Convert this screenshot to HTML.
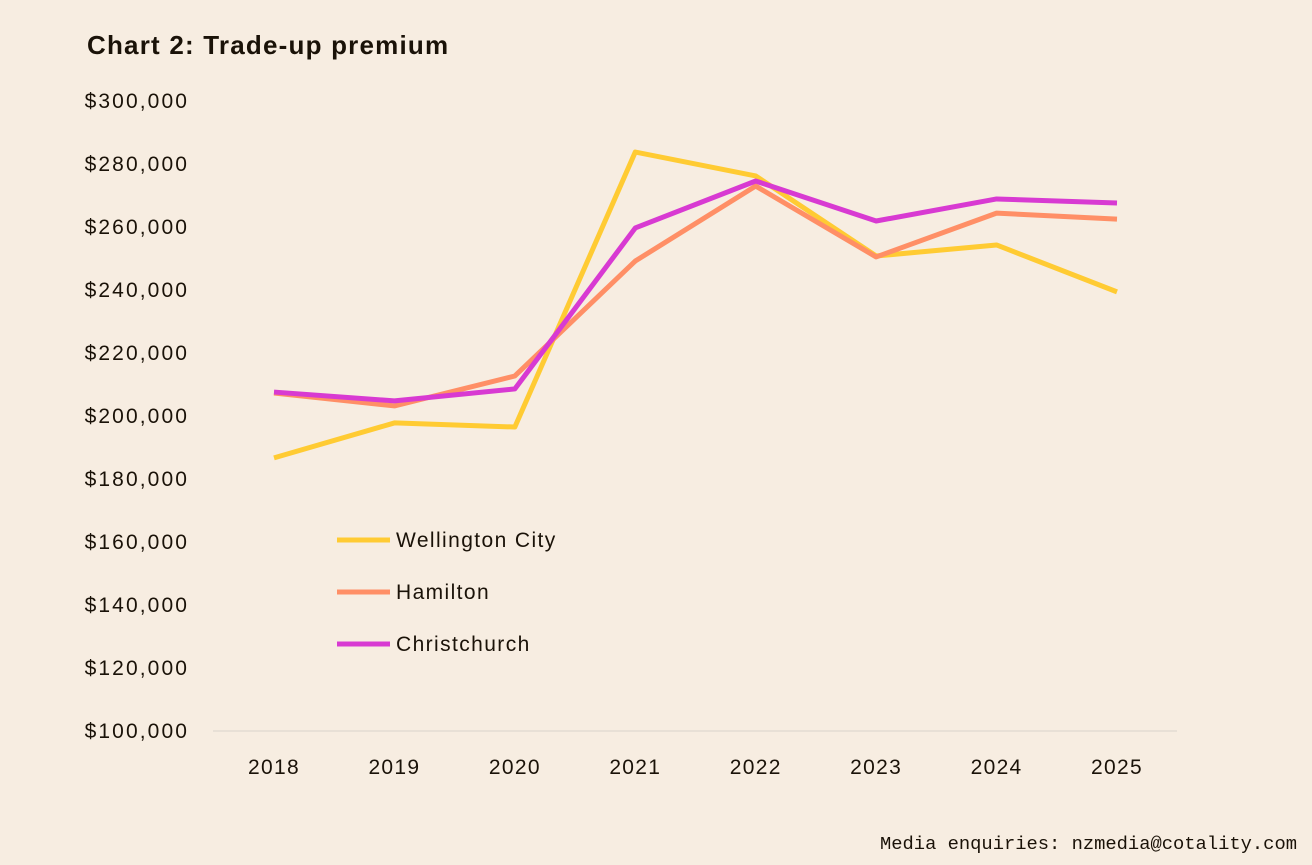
<!DOCTYPE html>
<html><head><meta charset="utf-8"><style>
body{margin:0;background:#f7ede1;}
svg{display:block;font-family:"Liberation Sans",sans-serif;}
</style></head><body>
<svg width="1312" height="865">
<rect width="1312" height="865" fill="#f7ede1"/>
<text x="87" y="54" font-size="26" font-weight="bold" letter-spacing="1.2" fill="#1a1208">Chart 2: Trade-up premium</text>
<g id="yaxis"></g><g id="xaxis"></g><g id="lines"></g><g id="legend"></g>
<text x="1297" y="849" text-anchor="end" font-family="Liberation Mono,monospace" font-size="18.8" fill="#1a1208">Media enquiries: nzmedia@cotality.com</text>
</svg>
<script>
const years=['2018','2019','2020','2021','2022','2023','2024','2025'];
const yTicks=[100000,120000,140000,160000,180000,200000,220000,240000,260000,280000,300000];
const wellington=[186700,197800,196500,283800,276200,250800,254300,239400];
const hamilton=[207300,203200,212700,249200,273000,250500,264400,262500];
const christchurch=[207600,204800,208600,259700,274600,261900,268900,267600];
const seriesNames=['Wellington City','Hamilton','Christchurch'];
const NS='http://www.w3.org/2000/svg';
function y(v){return 731-(v-100000)*630/200000;}
function x(i){return 274+i*(1117-274)/7;}
function mk(t,a,p){const e=document.createElementNS(NS,t);for(const k in a)e.setAttribute(k,a[k]);p.appendChild(e);return e;}
const ya=document.getElementById('yaxis');
yTicks.forEach(v=>{const t=mk('text',{x:189,y:y(v)+7,'text-anchor':'end','font-size':21,'letter-spacing':2.1,fill:'#1a1208'},ya);


t.textContent='$'+v.toLocaleString('en-US');});
const xa=document.getElementById('xaxis');
const ax=mk('line',{x1:213,x2:1177,y1:731,y2:731,stroke:'#e3dcd3','stroke-width':1.5},xa);


years.forEach((yr,i)=>{const t=mk('text',{x:x(i),y:774,'text-anchor':'middle','font-size':21,'letter-spacing':1.3,fill:'#1a1208'},xa);


t.textContent=yr;});
const data=[wellington,hamilton,christchurch];
const colors=['#ffcb33','#ff8f66','#d83ad2'];
const lg=document.getElementById('lines');
data.forEach((d,s)=>{const p=mk('polyline',{points:d.map((v,i)=>x(i)+','+y(v)).join(' '),fill:'none',stroke:colors[s],'stroke-width':5,'stroke-linejoin':'round'},lg);

});
const le=document.getElementById('legend');
seriesNames.forEach((n,s)=>{const yy=540+s*52;
const l=mk('line',{x1:337,x2:390,y1:yy,y2:yy,stroke:colors[s],'stroke-width':5},le);


const t=mk('text',{x:396,y:yy+7,'font-size':21,'letter-spacing':1.4,fill:'#1a1208'},le);


t.textContent=n;});
</script>
</body></html>
